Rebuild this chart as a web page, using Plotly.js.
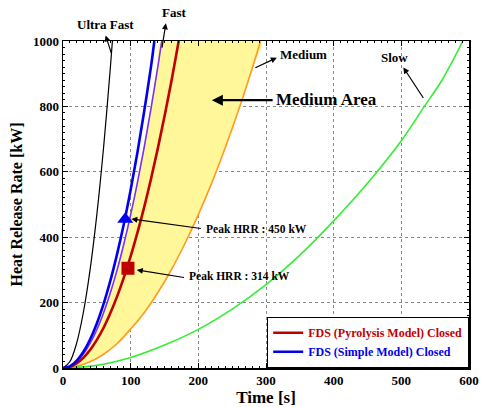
<!DOCTYPE html>
<html><head><meta charset="utf-8">
<script src="https://cdn.plot.ly/plotly-3.0.1.min.js"></script>
<style>html,body{margin:0;padding:0;background:#fff}</style>
</head><body><div id="chart" style="width:489px;height:407px"></div>
<script>
// Values
var ultraT = [0, 10, 20, 30, 40, 50, 60, 70, 73];
var ultraQ = [0, 19, 75, 169, 300, 469, 675, 919, 1000];

var simpleT = [0, 10, 20, 30, 40, 50, 60, 70, 80, 90, 100, 110, 120, 130, 135];
var simpleQ = [0, 5, 22, 49, 87, 136, 196, 267, 349, 441, 545, 659, 785, 921, 1000];

var fastT = [0, 10, 20, 30, 40, 50, 60, 70, 80, 90, 100, 110, 120, 130, 140, 146];
var fastQ = [0, 5, 19, 42, 75, 117, 169, 230, 300, 380, 469, 567, 675, 793, 919, 1000];

var pyroT = [0, 10, 20, 30, 40, 50, 60, 70, 80, 90, 100, 110, 120, 130, 140, 150, 160, 171];
var pyroQ = [0, 3, 14, 31, 55, 86, 123, 168, 219, 277, 342, 414, 492, 578, 670, 770, 875, 1000];

var mediumT = [0, 20, 40, 60, 80, 100, 120, 140, 160, 180, 200, 220, 240, 260, 280, 292];
var mediumQ = [0, 5, 19, 42, 75, 119, 169, 230, 300, 380, 469, 567, 675, 792, 919, 1000];

var slowT = [0, 50, 100, 150, 200, 250, 300, 350, 400, 450, 500, 534, 560, 591];
var slowQ = [0, 8, 32, 70, 118, 180, 255, 345, 450, 565, 695, 800, 880, 1000];

var peakSimple = {t: [92], q: [455]};
var peakPyro = {t: [96], q: [305]};

var serif = '"Liberation Serif"';

var areaX = fastT.concat(mediumT.slice().reverse());
var areaY = fastQ.concat(mediumQ.slice().reverse());

function ln(color, w) { return {color: color, width: w, shape: 'spline', smoothing: 1}; }

var traces = [
  {x: areaX, y: areaY, mode: 'lines', fill: 'toself', fillcolor: '#fff799',
   line: {width: 0, color: 'rgba(0,0,0,0)', shape: 'spline', smoothing: 1}, showlegend: false, hoverinfo: 'skip'},
  {x: ultraT, y: ultraQ, mode: 'lines', line: ln('#000', 1.2), showlegend: false},
  {x: mediumT, y: mediumQ, mode: 'lines', line: ln('#ff9a1c', 1.6), showlegend: false},
  {x: slowT, y: slowQ, mode: 'lines', line: ln('#33ee33', 1.6), showlegend: false},
  {x: fastT, y: fastQ, mode: 'lines', line: ln('#7b2ff0', 1.6), showlegend: false},
  {x: pyroT, y: pyroQ, mode: 'lines', line: ln('#c00000', 2.6),
   name: '<span style="color:#c00000">FDS (Pyrolysis Model) Closed</span>'},
  {x: simpleT, y: simpleQ, mode: 'lines', line: ln('#0000ee', 2.6),
   name: '<span style="color:#0000ee">FDS (Simple Model) Closed</span>'},
  {x: peakSimple.t, y: peakSimple.q, mode: 'markers', showlegend: false,
   marker: {symbol: 'triangle-up', size: 14, color: '#0000ee'}},
  {x: peakPyro.t, y: peakPyro.q, mode: 'markers', showlegend: false,
   marker: {symbol: 'square', size: 13, color: '#c00000'}}
];

// annotation helpers: x in data (s), y given in kW units but placed on paper (range 0..1000)
function lbl(text, x, y, size, xanchor) {
  return {text: text, x: x, y: y / 1000, xref: 'x', yref: 'paper', showarrow: false,
    xanchor: xanchor || 'center', yanchor: 'middle',
    font: {family: serif, size: size, color: '#000', weight: 'bold'}};
}
function arr(hx, hy, tx, ty, w) {
  return {text: '', x: hx, y: hy / 1000, ax: tx, ay: ty / 1000, xref: 'x', yref: 'paper', axref: 'x', ayref: 'paper',
    showarrow: true, arrowhead: 2, arrowsize: 1, arrowwidth: w || 1.2, arrowcolor: '#000', standoff: 0, startstandoff: 0};
}

var annotations = [
  lbl('Ultra Fast', 63, 1051, 13),
  arr(63, 1017, 72, 959),
  lbl('Fast', 165, 1087, 13),
  arr(152, 1054, 146, 975),
  lbl('Medium', 355, 959, 13),
  arr(316, 949, 282, 916),
  lbl('Slow', 490, 949, 13),
  arr(503, 919, 534, 821),
  lbl('Medium Area', 389, 821, 17),
  arr(220, 819, 312, 819, 2.2),
  lbl('Peak HRR : 450 kW', 208, 426, 11.5, 'left'),
  arr(101, 456, 206, 426),
  lbl('Peak HRR : 314 kW', 183, 282, 11.5, 'left'),
  arr(109, 300, 181, 276)
];

var axisCommon = {
  showline: true, linecolor: '#000', linewidth: 1.5, mirror: 'ticks',
  ticks: 'inside', ticklen: 5, tickcolor: '#000',
  showgrid: true, gridcolor: '#888', griddash: 'dot', gridwidth: 1,
  zeroline: false,
  tickfont: {family: serif, size: 13, color: '#000', weight: 'bold'}
};

var layout = {
  width: 489, height: 407,
  margin: {l: 63, r: 20, t: 41, b: 39},
  paper_bgcolor: '#fff', plot_bgcolor: '#fff',
  showlegend: true,
  legend: {x: 1, y: 0, xanchor: 'right', yanchor: 'bottom',
    bgcolor: '#fff', bordercolor: '#000', borderwidth: 1.2,
    font: {family: serif, size: 12, color: '#000', weight: 'bold'},
    tracegroupgap: 0, itemwidth: 30},
  xaxis: Object.assign({}, axisCommon, {range: [0, 600], tickvals: [0, 100, 200, 300, 400, 500, 600],
    minor: {ticks: 'inside', ticklen: 2, dtick: 10, tickcolor: '#000', showgrid: false},
    title: {text: 'Time [s]', standoff: 4, font: {family: serif, size: 17, color: '#000', weight: 'bold'}}}),
  yaxis: Object.assign({}, axisCommon, {range: [0, 1000], tickvals: [0, 200, 400, 600, 800, 1000],
    minor: {ticks: 'inside', ticklen: 2, dtick: 20, tickcolor: '#000', showgrid: false},
    title: {text: 'Heat Release Rate [kW]', standoff: 6, font: {family: serif, size: 16, color: '#000', weight: 'bold'}}}),
  annotations: annotations
};

Plotly.newPlot('chart', traces, layout, {displayModeBar: false, staticPlot: true});
</script></body></html>
